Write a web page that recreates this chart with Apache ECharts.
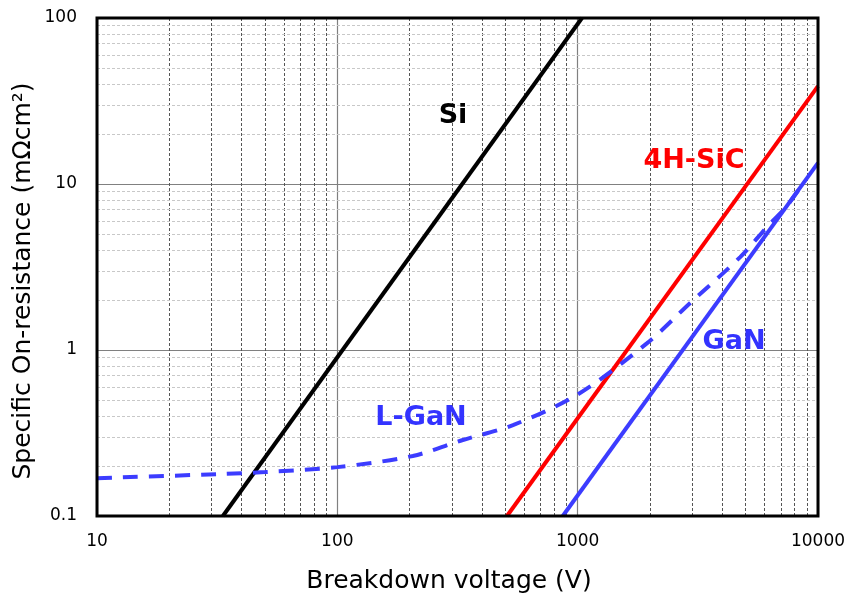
<!DOCTYPE html>
<html>
<head>
<meta charset="utf-8">
<script src="https://cdn.jsdelivr.net/npm/echarts@6/dist/echarts.min.js"></script>
<style>html,body{margin:0;padding:0;background:#fff}#c{width:851px;height:601px}</style>
</head>
<body>
<div id="c"></div>
<script>
// Axis ticks
const voltageTicks = [10, 100, 1000, 10000];
const resistanceTicks = [0.1, 1, 10, 100];
const voltageMinor = [20,30,40,50,60,70,80,90,200,300,400,500,600,700,800,900,2000,3000,4000,5000,6000,7000,8000,9000];
const resistanceMinor = [0.2,0.3,0.4,0.5,0.6,0.7,0.8,0.9,2,3,4,5,6,7,8,9,20,30,40,50,60,70,80,90];

// Series data (breakdown voltage V, specific on-resistance mΩcm²)
const siV = [33.4, 1042];
const siR = [0.1, 100];
const sicV = [508, 10000];
const sicR = [0.1, 38.9];
const ganV = [867, 10000];
const ganR = [0.1, 13.4];
const lganV = [10, 33, 50, 100, 206, 333, 538, 993, 1945, 2939, 4745, 6137, 7430, 8800];
const lganR = [0.169, 0.179, 0.184, 0.197, 0.230, 0.287, 0.353, 0.536, 1.10, 1.92, 3.63, 5.51, 7.4, 10.4];

const pair = (xs, ys) => xs.map((x, i) => [x, ys[i]]);
const fmt = v => String(+Number(v).toPrecision(3));

const chart = echarts.init(document.getElementById('c'), null, {renderer: 'canvas'});
const FONT = '"DejaVu Sans", Verdana, sans-serif';

chart.setOption({
  animation: false,
  backgroundColor: '#fff',
  grid: {left: 97, right: 33, top: 18, bottom: 85, show: true, borderColor: '#000', borderWidth: 3, backgroundColor: 'transparent', z: 10},
  xAxis: {
    type: 'log', logBase: 10, min: voltageTicks[0], max: voltageTicks[voltageTicks.length - 1],
    axisLine: {show: false}, axisTick: {show: false},
    axisLabel: {color: '#000', fontSize: 17, fontFamily: FONT, margin: 17, formatter: fmt},
    splitLine: {show: true, lineStyle: {color: '#808080', width: 1.2, type: 'solid'}}
  },
  yAxis: {
    type: 'log', logBase: 10, min: resistanceTicks[0], max: resistanceTicks[resistanceTicks.length - 1],
    axisLine: {show: false}, axisTick: {show: false},
    axisLabel: {color: '#000', fontSize: 17, fontFamily: FONT, margin: 20, formatter: fmt},
    splitLine: {show: true, lineStyle: {color: '#808080', width: 1.2, type: 'solid'}}
  },
  graphic: [
    {type: 'text', x: 449, y: 581, z: 100, style: {text: 'Breakdown voltage (V)', font: '25px ' + FONT, fill: '#000', textAlign: 'center', textVerticalAlign: 'middle'}},
    {type: 'text', x: 23, y: 281, rotation: Math.PI / 2, z: 100, style: {text: 'Specific On-resistance (mΩcm²)', font: '25px ' + FONT, fill: '#000', textAlign: 'center', textVerticalAlign: 'middle'}},
    {type: 'text', x: 453, y: 116, z: 100, style: {text: 'Si', font: 'bold 27px ' + FONT, fill: '#000', textAlign: 'center', textVerticalAlign: 'middle'}},
    {type: 'text', x: 694, y: 161, z: 100, style: {text: '4H-SiC', font: 'bold 27px ' + FONT, fill: '#ff0000', textAlign: 'center', textVerticalAlign: 'middle'}},
    {type: 'text', x: 734, y: 342, z: 100, style: {text: 'GaN', font: 'bold 27px ' + FONT, fill: '#3333ff', textAlign: 'center', textVerticalAlign: 'middle'}},
    {type: 'text', x: 421, y: 418, z: 100, style: {text: 'L-GaN', font: 'bold 27px ' + FONT, fill: '#3333ff', textAlign: 'center', textVerticalAlign: 'middle'}}
  ],
  series: [
    {
      type: 'line', data: [], z: 1, silent: true,
      markLine: {
        silent: true, symbol: 'none', label: {show: false}, animation: false,
        lineStyle: {color: '#555', width: 1, type: [3, 2]},
        data: voltageMinor.map(v => ({xAxis: v}))
      }
    },
    {
      type: 'line', data: [], z: 1, silent: true,
      markLine: {
        silent: true, symbol: 'none', label: {show: false}, animation: false,
        lineStyle: {color: '#c8c8c8', width: 1, type: [3, 2]},
        data: resistanceMinor.map(v => ({yAxis: v}))
      }
    },
    {name: 'Si', type: 'line', data: pair(siV, siR), showSymbol: false, z: 5, lineStyle: {color: '#000', width: 4}},
    {name: '4H-SiC', type: 'line', data: pair(sicV, sicR), showSymbol: false, z: 5, lineStyle: {color: '#ff0000', width: 4}},
    {name: 'GaN', type: 'line', data: pair(ganV, ganR), showSymbol: false, z: 5, lineStyle: {color: '#3c3cff', width: 4}},
    {name: 'L-GaN', type: 'line', data: pair(lganV, lganR), showSymbol: false, smooth: 0.3, z: 5, lineStyle: {color: '#3c3cff', width: 4, type: [15, 11]}}
  ]
});
</script>
</body>
</html>
